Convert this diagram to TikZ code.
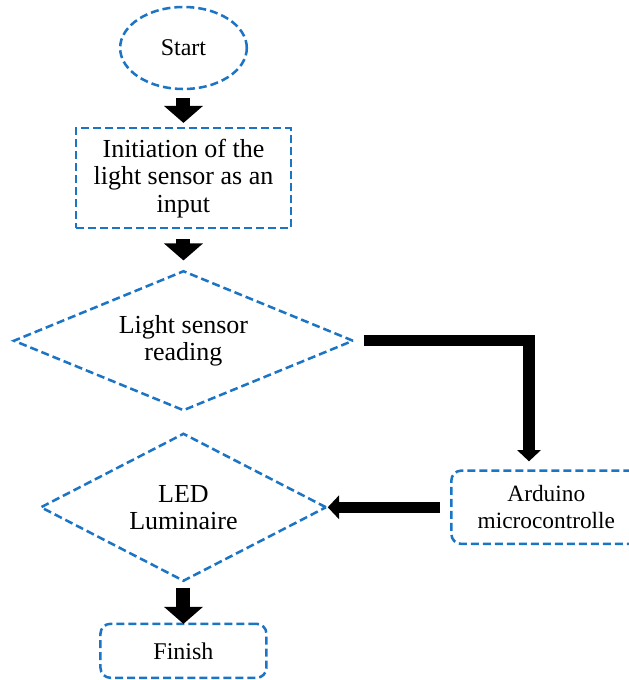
\documentclass[tikz,border=0pt]{standalone}
\usepackage{fontspec}
\setmainfont{Liberation Serif}
\usepackage{tikz}
\usetikzlibrary{shapes,arrows.meta,positioning}
\definecolor{flowblue}{RGB}{28,117,196}
\tikzstyle{flowline} = [draw=flowblue, line width=1.9pt, dash pattern=on 6pt off 3pt]
\tikzstyle{startstop} = [ellipse, flowline, text centered, font=\fontsize{18}{20}\selectfont, minimum width=95pt, minimum height=61.5pt, inner sep=0pt]
\tikzstyle{process} = [rectangle, flowline, align=center, font=\fontsize{19.5}{20.6}\selectfont, minimum width=161pt, minimum height=75pt, inner sep=0pt]
\tikzstyle{decision} = [diamond, flowline, align=center, font=\fontsize{19.5}{20.3}\selectfont, inner sep=0pt]
\tikzstyle{roundbox} = [rectangle, rounded corners=7.5pt, flowline, align=center, inner sep=0pt]
\tikzstyle{bigarrow} = [draw, line width=10.5pt, -{Triangle[width=28.5pt, length=12.75pt]}]
\tikzstyle{thinarrow} = [draw, line width=8.6pt, line join=miter, -{Triangle[width=17.5pt, length=8.5pt]}]

\begin{document}
\begin{tikzpicture}[auto]
\useasboundingbox (-137.6pt,36pt) rectangle (334.1pt,-474pt);

% steps =============================
\node[startstop] (start) {Start};
\node[process, below=27.5pt of start] (init) {Initiation of the\\light sensor as an\\input};
\node[decision, below=30pt of init, aspect=2.43, minimum width=255pt, minimum height=105pt] (ls) {Light sensor\\reading};
\node[decision, below=15pt of ls, aspect=1.93, minimum width=214.5pt, minimum height=111pt] (led) {LED\\Luminaire};
\node[roundbox, right=91.75pt of led, minimum width=142.5pt, minimum height=55pt, font=\fontsize{17.5}{20.3}\selectfont] (ard) {Arduino\\microcontrolle};
\node[roundbox, below=30pt of led, minimum width=124.5pt, minimum height=40.5pt, font=\fontsize{18}{20}\selectfont] (finish) {Finish};

% edges
\path[bigarrow, shorten <=6pt, shorten >=3pt] (start) -- (init);
\path[bigarrow, shorten <=7.5pt, shorten >=6.75pt] (init) -- (ls);
\path[bigarrow, shorten <=3.75pt, shorten >=-1pt] (led) -- (finish);
\path[thinarrow, shorten <=6.75pt, shorten >=6pt] (ls.east) -| ([xshift=-13pt]ard.north);
\path[thinarrow, shorten <=7.5pt] (ard) -- (led);

\end{tikzpicture}
\end{document}
